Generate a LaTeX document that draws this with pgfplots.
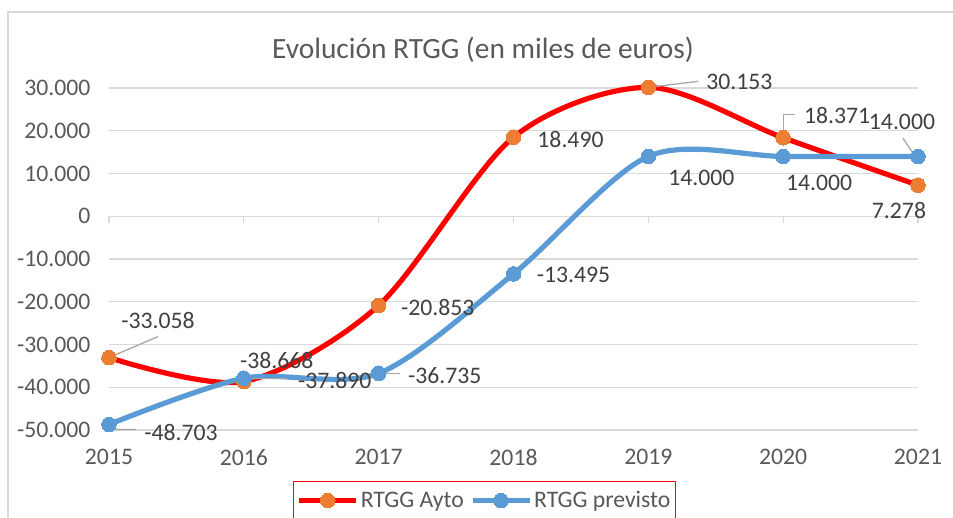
\documentclass[border=0pt]{standalone}
\usepackage{pgfplots}
\pgfplotsset{compat=1.18}
\usepackage{pgfplotstable}
\usepackage{fontspec}
\setmainfont{Carlito}
\definecolor{gridgray}{HTML}{D9D9D9}
\definecolor{txtgray}{HTML}{595959}
\definecolor{lblgray}{HTML}{404040}
\definecolor{leadgray}{HTML}{A6A6A6}
\definecolor{xlorange}{HTML}{ED7D31}
\definecolor{xlblue}{HTML}{5B9BD5}
\definecolor{xlred}{HTML}{FF0000}

\pgfplotstableread{
x y dx dy
2015 -33058 49 37
2016 -38668 33 21
2017 -20853 59 -2
2018 18490 57 -2
2019 30153 91 5
2020 18371 54 22
2021 7278 -19 -25
}\ayto
\pgfplotstableread{
x y dx dy
2015 -48703 72 -8
2016 -37890 91 -2
2017 -36735 66 -2
2018 -13495 60 -1
2019 14000 53 -21
2020 14000 36 -26
2021 14000 -16 35
}\previsto

\begin{document}
\begin{tikzpicture}
\path[use as bounding box] (-109bp,-88bp) rectangle (844bp,430bp);
\draw[gridgray, line width=1.3bp] (-101bp,-90bp) -- (-101bp,418bp) -- (846bp,418bp);
\begin{axis}[
  scale only axis, width=809bp, height=342bp,
  xmin=2015, xmax=2021, ymin=-50000, ymax=30000,
  xtick={2015,2016,2017,2018,2019,2020,2021},
  ytick={-50000,-40000,-30000,-20000,-10000,0,10000,20000,30000},
  /pgf/number format/assume math mode=true,
  scaled y ticks=false,
  axis line style={draw=none},
  major tick length=0pt,
  ymajorgrids, grid style={draw=gridgray, line width=1.3bp},
  clip=false,
  tick label style={font=\fontsize{23.8}{28}\selectfont, text=txtgray},
  xticklabel style={/pgf/number format/1000 sep={}, yshift=-16bp},
  yticklabel style={/pgf/number format/.cd, fixed, precision=0, 1000 sep={.}, /tikz/.cd, xshift=-15bp},
  nodes near coords,
  nodes near coords style={/pgf/number format/.cd, fixed, precision=0, 1000 sep={.}, assume math mode=true, /tikz/.cd,
     font=\fontsize{23.8}{28}\selectfont, text=lblgray, anchor=center, xshift=\dx bp, yshift=\dy bp, inner sep=0pt},
  visualization depends on={\thisrow{dx} \as \dx},
  visualization depends on={\thisrow{dy} \as \dy},
  legend columns=2,
  legend style={at={(0.2274,-0.149)}, anchor=north west, draw=xlred, line width=1.3bp,
     font=\fontsize{23.8}{28}\selectfont, text=txtgray, inner xsep=3bp, inner ysep=6bp,
     nodes={inner xsep=2bp, inner ysep=4bp},
     /tikz/every even column/.append style={column sep=4bp}},
  legend cell align=left,
  legend image code/.code={\draw[mark repeat=2,mark phase=2,#1] plot coordinates {(0bp,0bp) (28.5bp,0bp) (57bp,0bp)};},
]
\draw[gridgray, line width=1.3bp] (axis cs:2015,0) -- ++(0bp,-7bp);
\draw[gridgray, line width=1.3bp] (axis cs:2016,0) -- ++(0bp,-7bp);
\draw[gridgray, line width=1.3bp] (axis cs:2017,0) -- ++(0bp,-7bp);
\draw[gridgray, line width=1.3bp] (axis cs:2018,0) -- ++(0bp,-7bp);
\draw[gridgray, line width=1.3bp] (axis cs:2019,0) -- ++(0bp,-7bp);
\draw[gridgray, line width=1.3bp] (axis cs:2020,0) -- ++(0bp,-7bp);
\draw[gridgray, line width=1.3bp] (axis cs:2021,0) -- ++(0bp,-7bp);

\addplot[xlred, line width=5.2bp, smooth, mark=*, mark size=7.3bp,
  mark options={solid, fill=xlorange, draw=xlorange, line width=0pt}]
  table[x=x, y=y, meta=y] {\ayto};
\addlegendentry{RTGG Ayto}
\addplot[xlblue, line width=5.2bp, smooth, mark=*, mark size=7.3bp,
  mark options={solid, fill=xlblue, draw=xlblue, line width=0pt}]
  table[x=x, y=y, meta=y] {\previsto};
\addlegendentry{RTGG previsto}

\draw[leadgray, line width=1.3bp] (axis cs:2015,-33058) -- ++(49bp,21bp);
\draw[leadgray, line width=1.3bp] (axis cs:2019,30153) -- ++(50bp,6bp);
\draw[leadgray, line width=1.3bp] (axis cs:2020,18371) ++(0bp,3bp) -- ++(0bp,20bp) -- ++(12bp,0bp);
\draw[leadgray, line width=1.3bp] (axis cs:2015,-48703) -- ++(8bp,-5bp) -- ++(19bp,0bp);
\draw[leadgray, line width=1.3bp] (axis cs:2016,-37890) -- ++(43bp,0bp);
\draw[leadgray, line width=1.3bp] (axis cs:2017,-36735) -- ++(21bp,0bp);
\draw[leadgray, line width=1.3bp] (axis cs:2021,14000) ++(-4bp,2bp) -- ++(-11bp,16bp);
\end{axis}
\node[font=\fontsize{29.5}{34}\selectfont, text=txtgray] at (374bp,380bp) {Evolución RTGG (en miles de euros)};
\end{tikzpicture}
\end{document}
